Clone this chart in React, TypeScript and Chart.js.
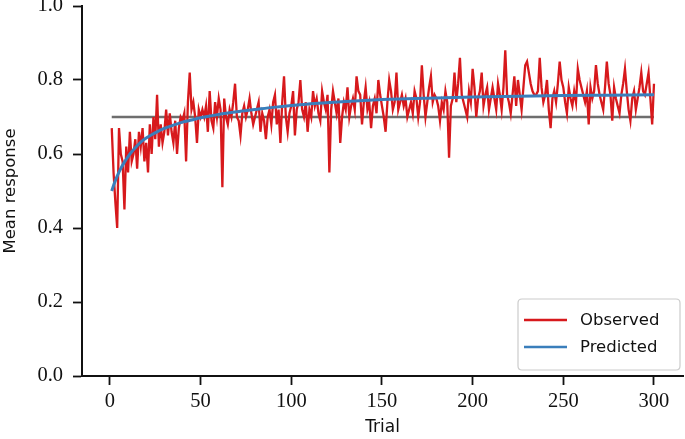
import React, { useEffect, useRef } from "react";
import { Chart, registerables } from "chart.js";

Chart.register(...registerables);

const observed: number[] = [
  0.67, 0.55, 0.47, 0.40, 0.67, 0.60, 0.58, 0.45, 0.62, 0.55,
  0.66, 0.58, 0.60, 0.64, 0.56, 0.66, 0.62, 0.67, 0.58, 0.63,
  0.55, 0.68, 0.60, 0.70, 0.64, 0.76, 0.62, 0.68, 0.63, 0.66,
  0.72, 0.65, 0.71, 0.66, 0.63, 0.69, 0.60, 0.67, 0.70, 0.69,
  0.71, 0.58, 0.74, 0.82, 0.72, 0.74, 0.70, 0.63, 0.72, 0.70,
  0.72, 0.70, 0.73, 0.66, 0.77, 0.69, 0.67, 0.74, 0.70, 0.75,
  0.72, 0.51, 0.75, 0.70, 0.68, 0.72, 0.70, 0.74, 0.79, 0.70,
  0.69, 0.65, 0.71, 0.73, 0.70, 0.72, 0.75, 0.71, 0.68, 0.70,
  0.72, 0.74, 0.66, 0.71, 0.69, 0.64, 0.70, 0.72, 0.68, 0.74,
  0.76, 0.68, 0.72, 0.63, 0.74, 0.81, 0.70, 0.66, 0.71, 0.73,
  0.77, 0.65, 0.72, 0.74, 0.80, 0.72, 0.70, 0.74, 0.66, 0.72,
  0.70, 0.77, 0.73, 0.75, 0.71, 0.69, 0.77, 0.74, 0.72, 0.76,
  0.55, 0.72, 0.77, 0.74, 0.71, 0.75, 0.63, 0.70, 0.74, 0.72,
  0.78, 0.70, 0.73, 0.75, 0.72, 0.81, 0.77, 0.76, 0.68, 0.74,
  0.78, 0.72, 0.74, 0.67, 0.73, 0.75, 0.71, 0.80, 0.76, 0.73,
  0.70, 0.66, 0.74, 0.80, 0.77, 0.72, 0.74, 0.82, 0.72, 0.74,
  0.76, 0.73, 0.75, 0.70, 0.72, 0.74, 0.71, 0.77, 0.75, 0.70,
  0.74, 0.84, 0.76, 0.70, 0.74, 0.78, 0.81, 0.74, 0.76, 0.75,
  0.73, 0.69, 0.74, 0.72, 0.77, 0.74, 0.59, 0.73, 0.75, 0.82,
  0.74, 0.79, 0.86, 0.76, 0.74, 0.72, 0.70, 0.77, 0.74, 0.83,
  0.78, 0.70, 0.75, 0.77, 0.82, 0.73, 0.76, 0.78, 0.72, 0.75,
  0.78, 0.75, 0.72, 0.79, 0.76, 0.72, 0.78, 0.88, 0.76, 0.74,
  0.71, 0.76, 0.81, 0.73, 0.80, 0.76, 0.72, 0.78, 0.84, 0.85,
  0.82, 0.79, 0.77, 0.76, 0.76, 0.77, 0.86, 0.78, 0.74, 0.76,
  0.80, 0.72, 0.67, 0.75, 0.77, 0.74, 0.79, 0.85, 0.80, 0.78,
  0.74, 0.71, 0.78, 0.75, 0.73, 0.77, 0.74, 0.83, 0.80, 0.78,
  0.76, 0.74, 0.77, 0.68, 0.78, 0.75, 0.77, 0.84, 0.79, 0.76,
  0.74, 0.72, 0.78, 0.85, 0.79, 0.76, 0.69, 0.78, 0.75, 0.73,
  0.71, 0.76, 0.79, 0.83, 0.77, 0.72, 0.69, 0.75, 0.77, 0.72,
  0.75, 0.78, 0.82, 0.77, 0.76, 0.79, 0.82, 0.75, 0.68, 0.79,
];

// Predicted curve, sampled at these trials
const predictedTrials: number[] = [
  1, 2, 3, 4, 5, 6, 8, 10, 12, 14, 16, 18, 20, 23, 26, 30, 35, 40, 45, 50,
  60, 70, 80, 90, 100, 115, 130, 150, 175, 200, 225, 250, 275, 300,
];
const predictedValues: number[] = [
  0.5, 0.515, 0.528, 0.54, 0.551, 0.561, 0.578, 0.593, 0.606, 0.617, 0.627,
  0.636, 0.643, 0.652, 0.66, 0.669, 0.678, 0.686, 0.692, 0.698, 0.707, 0.714,
  0.72, 0.726, 0.731, 0.737, 0.742, 0.747, 0.751, 0.754, 0.756, 0.758, 0.759,
  0.76,
];

// Reference level
const referenceTrials: number[] = [1, 300];
const referenceValues: number[] = [0.7, 0.7];

const xTicks: number[] = [0, 50, 100, 150, 200, 250, 300];
const yTicks: number[] = [0, 0.2, 0.4, 0.6, 0.8, 1.0];

const legendLabels: string[] = ["Observed", "Predicted"];

const RED = "#d7191c";
const BLUE = "#3a7ebb";
const GRAY = "#6e6e6e";

const legendPlugin = {
  id: "insideLegend",
  afterDraw(chart: any) {
    const { ctx, chartArea } = chart;
    const w = 162;
    const h = 71;
    const right = chartArea.right - 3;
    const bottom = chartArea.bottom - 6;
    const left = right - w;
    const top = bottom - h;
    ctx.save();
    ctx.beginPath();
    const r = 4;
    ctx.moveTo(left + r, top);
    ctx.lineTo(right - r, top);
    ctx.quadraticCurveTo(right, top, right, top + r);
    ctx.lineTo(right, bottom - r);
    ctx.quadraticCurveTo(right, bottom, right - r, bottom);
    ctx.lineTo(left + r, bottom);
    ctx.quadraticCurveTo(left, bottom, left, bottom - r);
    ctx.lineTo(left, top + r);
    ctx.quadraticCurveTo(left, top, left + r, top);
    ctx.closePath();
    ctx.fillStyle = "rgba(255,255,255,0.85)";
    ctx.fill();
    ctx.strokeStyle = "#cccccc";
    ctx.lineWidth = 1.2;
    ctx.stroke();
    const colors = [RED, BLUE];
    legendLabels.forEach((label, i) => {
      const y = top + 21 + i * 27;
      ctx.beginPath();
      ctx.strokeStyle = colors[i];
      ctx.lineWidth = 2.5;
      ctx.moveTo(left + 6, y);
      ctx.lineTo(left + 49, y);
      ctx.stroke();
      ctx.fillStyle = "#111";
      ctx.font = "16.5px 'DejaVu Sans'";
      ctx.textBaseline = "middle";
      ctx.textAlign = "left";
      ctx.fillText(label, left + 62, y + 1);
    });
    ctx.restore();
  },
};

export default function App() {
  const canvasRef = useRef<HTMLCanvasElement | null>(null);

  useEffect(() => {
    if (!canvasRef.current) return;
    const chart = new Chart(canvasRef.current, {
      type: "line",
      data: {
        datasets: [
          {
            label: "Predicted",
            data: predictedTrials.map((t, i) => ({ x: t, y: predictedValues[i] })),
            borderColor: BLUE,
            borderWidth: 3,
            pointRadius: 0,
            cubicInterpolationMode: "monotone",
            fill: false,
            order: 1,
          },
          {
            label: "Observed",
            data: observed.map((v, i) => ({ x: i + 1, y: v })),
            borderColor: RED,
            borderWidth: 2.3,
            pointRadius: 0,
            tension: 0,
            fill: false,
            order: 2,
          },
          {
            label: "Reference",
            data: referenceTrials.map((t, i) => ({ x: t, y: referenceValues[i] })),
            borderColor: GRAY,
            borderWidth: 2.5,
            pointRadius: 0,
            fill: false,
            order: 3,
          },
        ],
      },
      options: {
        responsive: false,
        animation: false,
        devicePixelRatio: 1,
        layout: { padding: { top: 6, right: 2, left: 0, bottom: 0 } },
        plugins: {
          legend: { display: false },
          tooltip: { enabled: false },
        },
        scales: {
          x: {
            type: "linear",
            min: -15.4,
            max: 316,
            afterBuildTicks: (scale: any) => {
              scale.ticks = xTicks.map((v) => ({ value: v }));
            },
            afterFit: (scale: any) => {
              scale.height = 63;
              scale.paddingLeft = 0;
              scale.paddingRight = 0;
            },
            ticks: {
              callback: (v: any) => String(v),
              font: { family: "'Liberation Serif'", size: 20.5 },
              color: "#111",
              padding: 4,
              maxRotation: 0,
              autoSkip: false,
            },
            grid: {
              drawOnChartArea: false,
              drawTicks: true,
              tickLength: 9,
              tickColor: "#111",
              tickWidth: 1.8,
            },
            border: { color: "#111", width: 2 },
            title: {
              display: true,
              text: "Trial",
              font: { family: "'DejaVu Sans'", size: 17 },
              color: "#111",
              padding: { top: 0, bottom: 1 },
            },
          },
          y: {
            type: "linear",
            min: 0,
            max: 1,
            afterBuildTicks: (scale: any) => {
              scale.ticks = yTicks.map((v) => ({ value: v }));
            },
            afterFit: (scale: any) => {
              scale.width = 82;
              scale.paddingTop = 0;
              scale.paddingBottom = 0;
            },
            ticks: {
              callback: (v: any) => Number(v).toFixed(1),
              font: { family: "'Liberation Serif'", size: 20.5 },
              color: "#111",
              padding: 10,
              autoSkip: false,
            },
            grid: {
              drawOnChartArea: false,
              drawTicks: true,
              tickLength: 9,
              tickColor: "#111",
              tickWidth: 1.8,
            },
            border: { color: "#111", width: 2 },
            title: {
              display: true,
              text: "Mean response",
              font: { family: "'DejaVu Sans'", size: 16.5 },
              color: "#111",
              padding: { top: 1, bottom: 0 },
            },
          },
        },
      },
      plugins: [legendPlugin],
    } as any);
    return () => chart.destroy();
  }, []);

  return (
    <div style={{ position: "absolute", left: 0, top: 0, width: 685, height: 439, background: "#fff" }}>
      <canvas ref={canvasRef} width={685} height={439} style={{ width: 685, height: 439, display: "block" }} />
    </div>
  );
}
